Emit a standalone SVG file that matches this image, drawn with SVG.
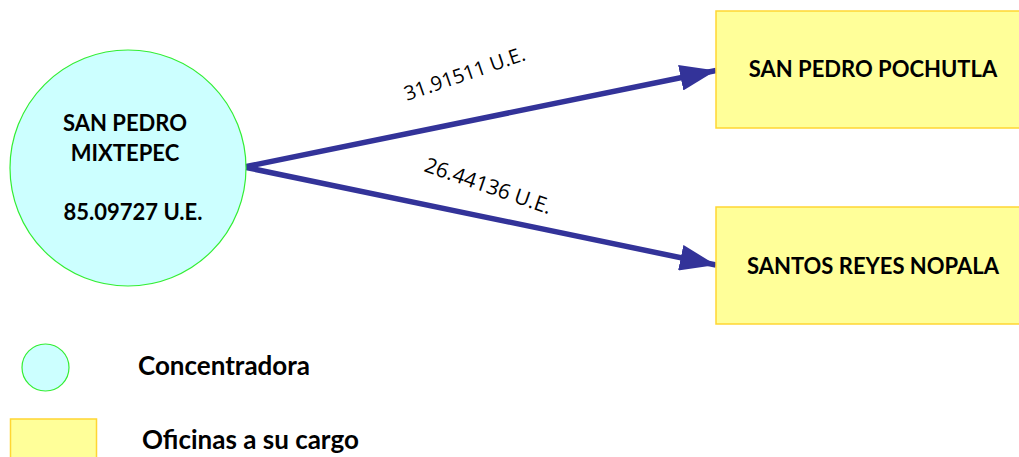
<svg xmlns="http://www.w3.org/2000/svg" width="1019" height="457" viewBox="0 0 1019 457">
<style>
.conc{fill:#CCFFFF;stroke:#33EE33;stroke-width:1.2}
.ofi{fill:#FFFF99;stroke:#FFD633;stroke-width:1.5}
.lbl{font-family:Lato,"Open Sans","Liberation Sans",sans-serif;font-weight:bold;font-size:22px;fill:#000;text-anchor:middle}
.elbl{font-family:"Open Sans",Lato,"Liberation Sans",sans-serif;font-size:20px;fill:#000}
.leg{font-family:Lato,"Open Sans","Liberation Sans",sans-serif;font-weight:bold;font-size:26px;fill:#000}
.edge{stroke:#333399;stroke-width:5.5;fill:none}
</style>
<defs>
<marker id="ah" markerUnits="userSpaceOnUse" viewBox="0 0 36 26" refX="36" refY="13" markerWidth="36" markerHeight="26" orient="auto">
<path d="M0,0 L36,13 L0,26 Z" fill="#333399"/>
</marker>
</defs>
<rect width="1019" height="457" fill="#fff"/>
<g id="connectors">
<line class="edge" x1="244" y1="167" x2="716" y2="70.5" marker-end="url(#ah)"/>
<line class="edge" x1="244" y1="167" x2="716" y2="265" marker-end="url(#ah)"/>
<text class="elbl" transform="translate(407,101) rotate(-19)">31.91511 U.E.</text>
<text class="elbl" style="font-size:21px" transform="translate(423,171) rotate(19)">26.44136 U.E.</text>
</g>
<g id="mixtepec">
<circle class="conc" cx="128" cy="168" r="118"/>
<text class="lbl" x="125" y="131">SAN PEDRO</text>
<text class="lbl" x="125" y="161">MIXTEPEC</text>
<text class="lbl" x="133" y="220">85.09727 U.E.</text>
</g>
<g id="pochutla">
<rect class="ofi" x="716" y="11" width="310" height="117"/>
<text class="lbl" x="873" y="77">SAN PEDRO POCHUTLA</text>
</g>
<g id="nopala">
<rect class="ofi" x="716" y="207" width="310" height="117"/>
<text class="lbl" x="873" y="274">SANTOS REYES NOPALA</text>
</g>
<g id="legend">
<circle class="conc" cx="45.5" cy="367.5" r="23.5"/>
<text class="leg" x="138" y="375">Concentradora</text>
<rect class="ofi" x="10.5" y="419" width="86" height="45"/>
<text class="leg" x="142" y="449">Oficinas a su cargo</text>
</g>
</svg>
